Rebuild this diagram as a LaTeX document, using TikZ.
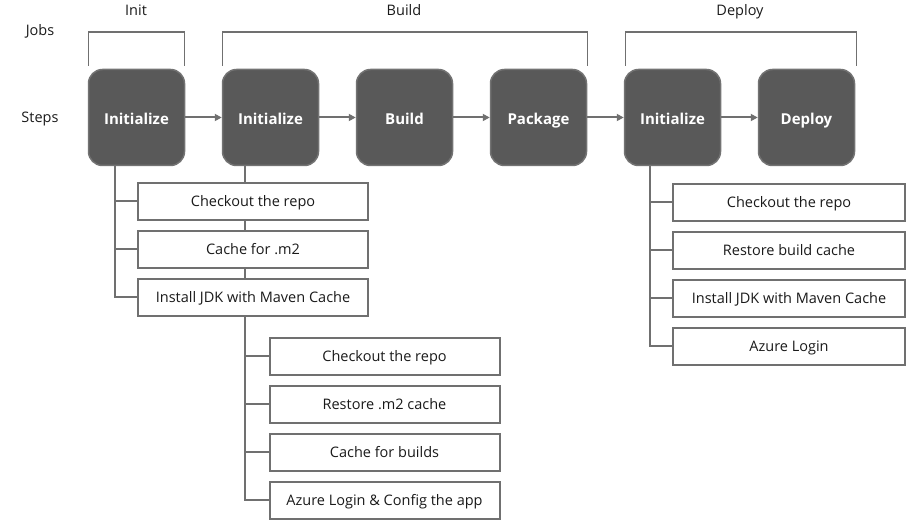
\documentclass[tikz,border=0pt]{standalone}
\usepackage{fontspec}
\setmainfont{Open Sans}
\usetikzlibrary{arrows.meta}
\definecolor{boxfill}{HTML}{595959}
\definecolor{boxedge}{HTML}{737373}
\definecolor{linec}{HTML}{707070}
\definecolor{txt}{HTML}{1A1A1A}
\tikzset{
  big/.style={draw=boxedge, fill=boxfill, line width=1.5pt, rounded corners=14pt,
    minimum width=96pt, minimum height=96pt, text=white, font=\fontsize{15}{18}\selectfont\bfseries,
    inner sep=0pt, text height=14pt, text depth=0pt},
  stepbox/.style={draw=linec, fill=white, line width=2pt, minimum width=230pt, minimum height=37pt,
    text=txt, font=\fontsize{14.5}{17}\selectfont, inner sep=0pt, text height=11pt, text depth=0pt},
  lbl/.style={text=txt, font=\fontsize{14.5}{17}\selectfont, inner sep=0pt, anchor=base},
  arr/.style={draw=linec, line width=2pt, -{Triangle[length=7pt,width=7pt]}},
  tree/.style={draw=linec, line width=2pt},
  brk/.style={draw=linec, line width=1.2pt}
}
\begin{document}
\begin{tikzpicture}[x=1pt,y=-1pt]
\useasboundingbox (0,0) rectangle (922,526);
% job labels
\node[lbl] (jobs) at (40,36) {Jobs};
\node[lbl] (steps) at (40,123) {Steps};
\node[lbl] (linit) at (136,16) {Init};
\node[lbl] (lbuild) at (404,16) {Build};
\node[lbl] (ldeploy) at (740,16) {Deploy};
% brackets
\draw[brk] (88.5,66) -- (88.5,32) -- (184.5,32) -- (184.5,66);
\draw[brk] (222.5,66) -- (222.5,32) -- (587.5,32) -- (587.5,66);
\draw[brk] (625.5,66) -- (625.5,32) -- (856.5,32) -- (856.5,66);
% main steps
\node[big] (i1) at (136.5,117.5) {Initialize};
\node[big] (i2) at (270.5,117.5) {Initialize};
\node[big] (bd) at (404.5,117.5) {Build};
\node[big] (pk) at (538.5,117.5) {Package};
\node[big] (i3) at (672.5,117.5) {Initialize};
\node[big] (dp) at (806.5,117.5) {Deploy};
\draw[arr] (i1) -- (i2);
\draw[arr] (i2) -- (bd);
\draw[arr] (bd) -- (pk);
\draw[arr] (pk) -- (i3);
\draw[arr] (i3) -- (dp);
% build substeps (tree drawn first, passes behind init boxes)
\coordinate (i2s) at ([xshift=-25.5pt]i2.south);
\node[stepbox] (b1) at (384.5,356.5) {Checkout the repo};
\node[stepbox] (b2) at (384.5,404.5) {Restore .m2 cache};
\node[stepbox] (b3) at (384.5,452.5) {Cache for builds};
\node[stepbox] (b4) at (384.5,500.5) {Azure Login \& Config the app};
\draw[tree] (i2s) |- (b1.west);
\draw[tree] (i2s) |- (b2.west);
\draw[tree] (i2s) |- (b3.west);
\draw[tree] (i2s) |- (b4.west);
% init substeps
\node[stepbox] (a1) at (253,201.5) {Checkout the repo};
\node[stepbox] (a2) at (253,249.5) {Cache for .m2};
\node[stepbox] (a3) at (253,297.5) {Install JDK with Maven Cache};
\draw[tree] ([xshift=-21.5pt]i1.south) |- (a1.west);
\draw[tree] ([xshift=-21.5pt]i1.south) |- (a2.west);
\draw[tree] ([xshift=-21.5pt]i1.south) |- (a3.west);
% deploy substeps
\node[stepbox, minimum width=232pt] (c1) at (789,202.5) {Checkout the repo};
\node[stepbox, minimum width=232pt] (c2) at (789,250.5) {Restore build cache};
\node[stepbox, minimum width=232pt] (c3) at (789,298.5) {Install JDK with Maven Cache};
\node[stepbox, minimum width=232pt] (c4) at (789,346.5) {Azure Login};
\draw[tree] ([xshift=-22.5pt]i3.south) |- (c1.west);
\draw[tree] ([xshift=-22.5pt]i3.south) |- (c2.west);
\draw[tree] ([xshift=-22.5pt]i3.south) |- (c3.west);
\draw[tree] ([xshift=-22.5pt]i3.south) |- (c4.west);
\end{tikzpicture}
\end{document}
